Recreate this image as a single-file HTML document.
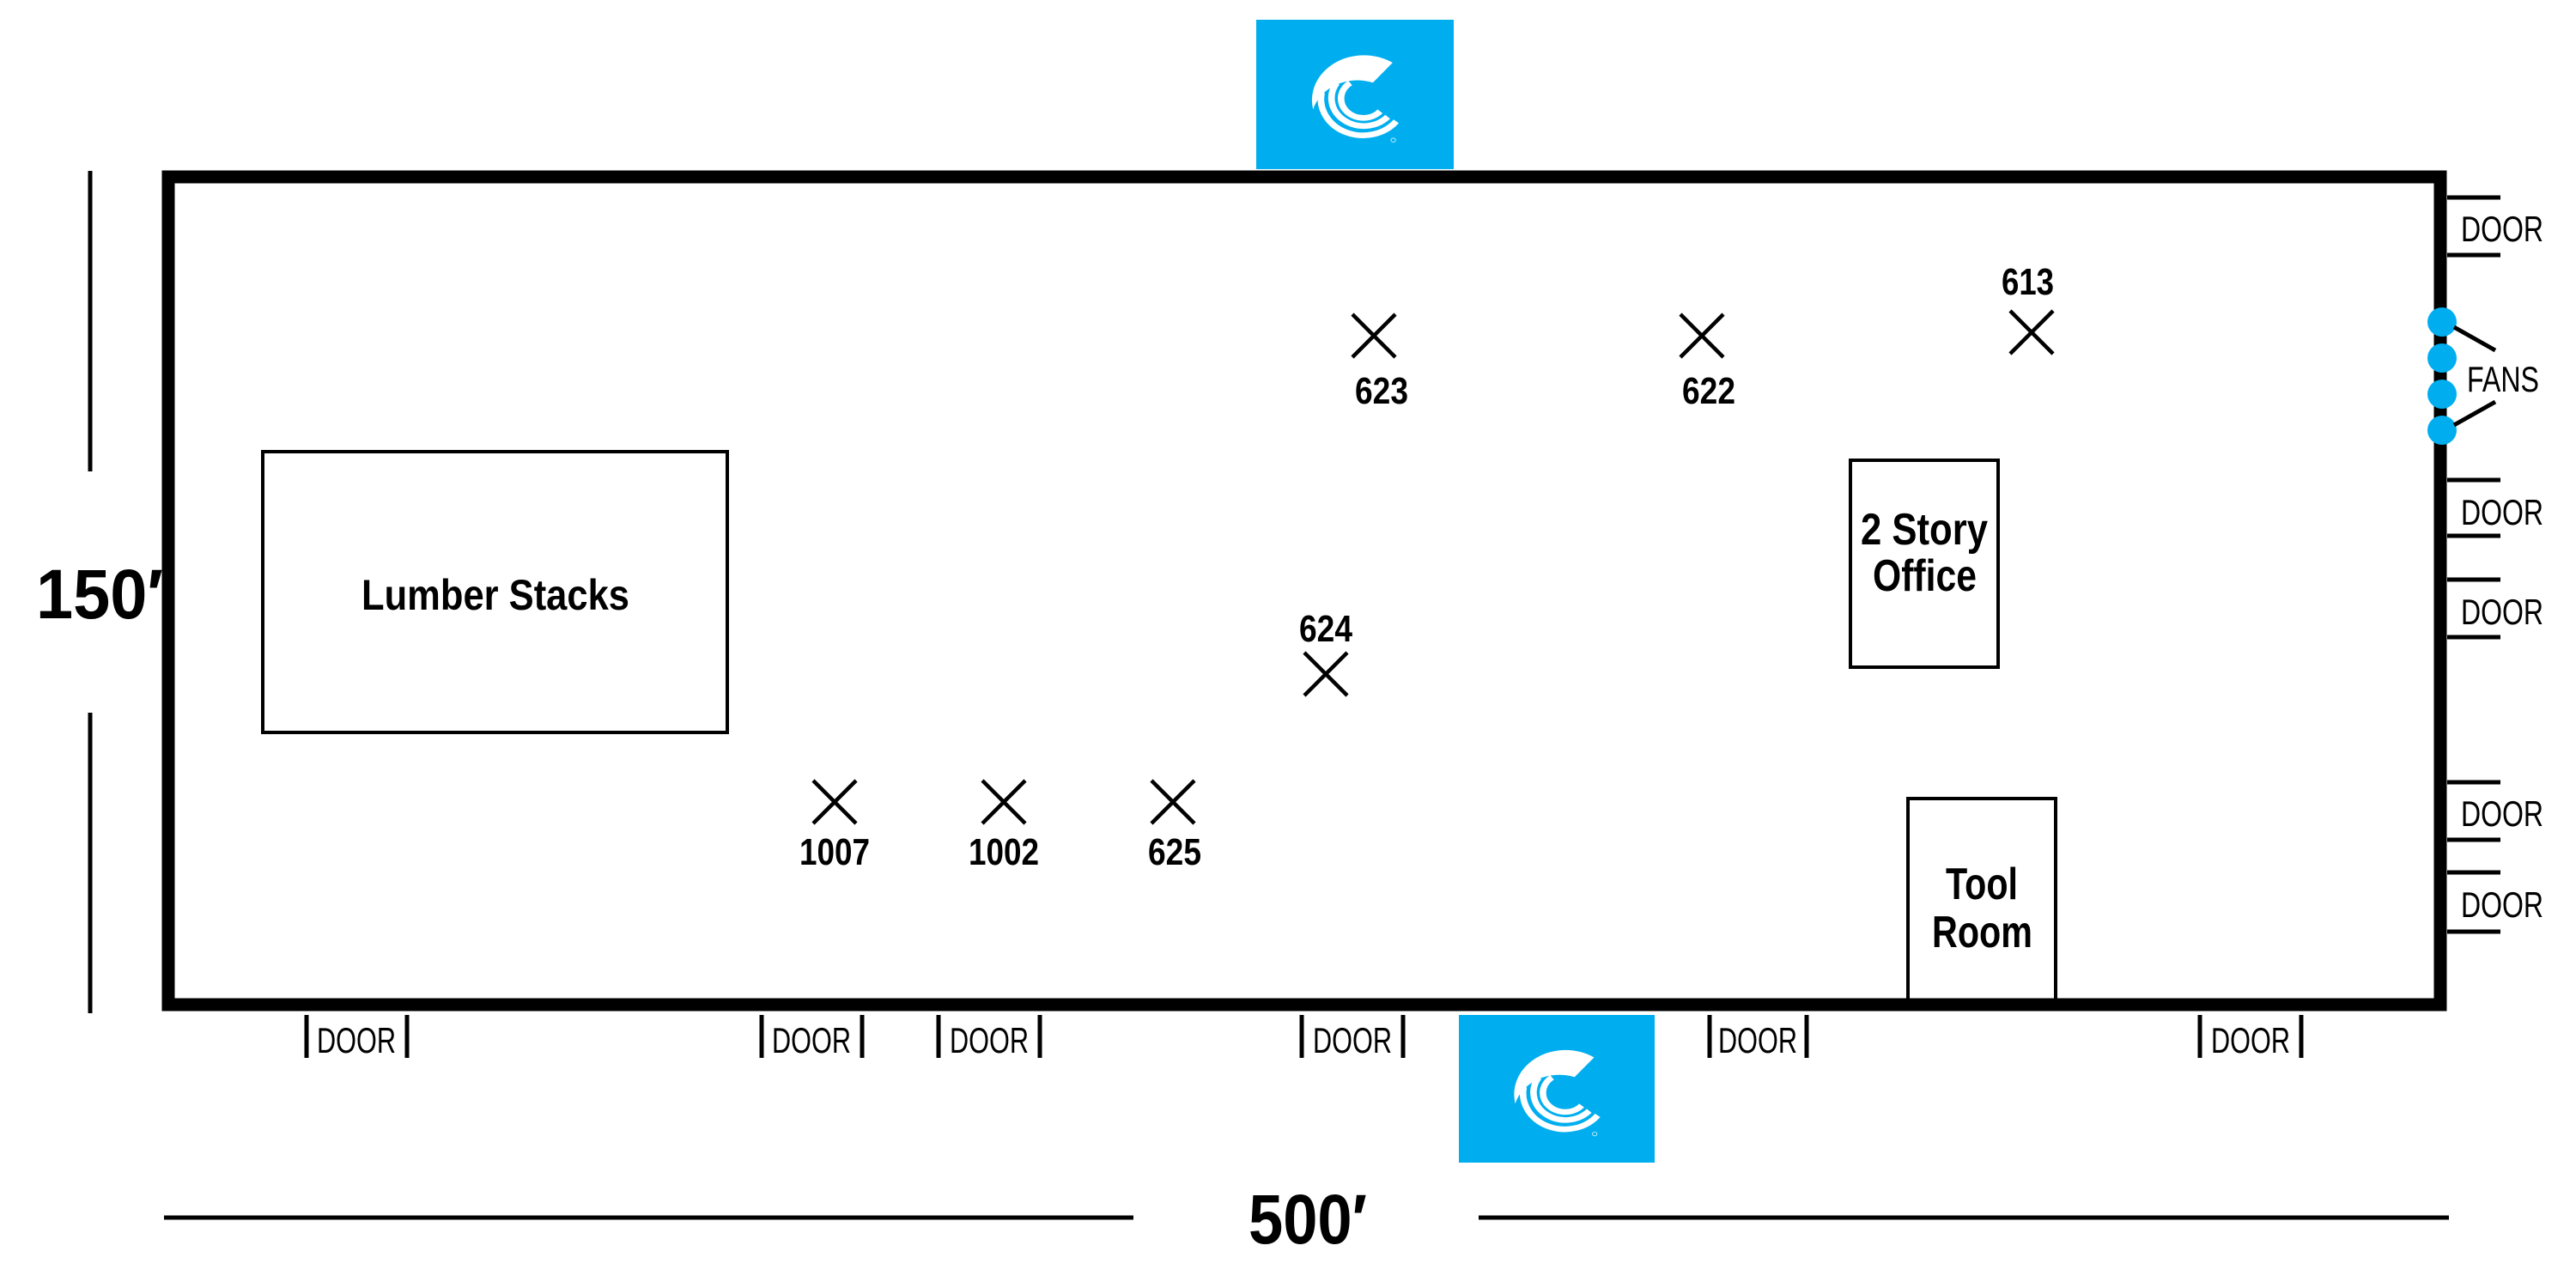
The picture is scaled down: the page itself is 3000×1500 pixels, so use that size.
<!DOCTYPE html>
<html><head><meta charset="utf-8"><style>
html,body{margin:0;padding:0;background:#fff}
svg{display:block}
.b{font-family:"Liberation Sans",sans-serif;font-weight:bold;fill:#000}
.r{font-family:"Liberation Sans",sans-serif;fill:#000}
</style></head><body>
<svg width="3000" height="1500" viewBox="0 0 3000 1500" xmlns="http://www.w3.org/2000/svg">
<defs>
<clipPath id="lc"><rect x="0" y="0" width="601" height="525"/></clipPath>
<g id="logo">
<rect x="0" y="0" width="601" height="525" fill="#00AEEF"/>
<g clip-path="url(#lc)"><g transform="translate(-165,-67)">
<path d="M580,218 A158,158 0 0 0 338,382 A140,140 0 0 1 520,288 Z" fill="#fff"/>
<path d="M451,289 A68,68 0 1 0 542,389" fill="none" stroke="#fff" stroke-width="20"/>
<path d="M410,289 A98,98 0 0 0 565,408" fill="none" stroke="#fff" stroke-width="20"/>
<path d="M364,323 A128,128 0 0 0 591,424" fill="none" stroke="#fff" stroke-width="20"/>
<circle cx="582" cy="490" r="7" fill="none" stroke="#fff" stroke-width="2"/>
</g></g>
</g>
<g id="x"><path d="M-25,-25 L25,25 M25,-25 L-25,25" stroke="#000" stroke-width="4.5"/></g>
</defs>

<g transform="translate(1463,23) scale(0.3827,0.3314)"><use href="#logo"/></g>
<g transform="translate(1699,1182) scale(0.3794,0.3276)"><use href="#logo"/></g>

<rect x="196" y="206" width="2646" height="964" fill="none" stroke="#000" stroke-width="15"/>

<line x1="105" y1="199" x2="105" y2="549" stroke="#000" stroke-width="5"/>
<line x1="105" y1="830" x2="105" y2="1180" stroke="#000" stroke-width="5"/>
<text class="b" x="42" y="720" font-size="82" textLength="148" lengthAdjust="spacingAndGlyphs">150′</text>

<line x1="191" y1="1418" x2="1320" y2="1418" stroke="#000" stroke-width="5"/>
<line x1="1722" y1="1418" x2="2852" y2="1418" stroke="#000" stroke-width="5"/>
<text class="b" x="1454" y="1448" font-size="82" textLength="138" lengthAdjust="spacingAndGlyphs">500′</text>

<rect x="306" y="526" width="541" height="327" fill="none" stroke="#000" stroke-width="4"/>
<text class="b" x="421" y="710" font-size="50" textLength="312" lengthAdjust="spacingAndGlyphs">Lumber Stacks</text>

<rect x="2155" y="536" width="172" height="241" fill="none" stroke="#000" stroke-width="4"/>
<text class="b" x="2167" y="634" font-size="52" textLength="148" lengthAdjust="spacingAndGlyphs">2 Story</text>
<text class="b" x="2181" y="688" font-size="52" textLength="121" lengthAdjust="spacingAndGlyphs">Office</text>

<rect x="2222" y="930" width="172" height="245" fill="none" stroke="#000" stroke-width="4"/>
<text class="b" x="2266" y="1047" font-size="52" textLength="84" lengthAdjust="spacingAndGlyphs">Tool</text>
<text class="b" x="2250" y="1103" font-size="52" textLength="117" lengthAdjust="spacingAndGlyphs">Room</text>

<use href="#x" x="1600" y="391"/>
<text class="b" x="1578" y="470" font-size="44" textLength="62" lengthAdjust="spacingAndGlyphs">623</text>
<use href="#x" x="1982" y="391"/>
<text class="b" x="1959" y="470" font-size="44" textLength="62" lengthAdjust="spacingAndGlyphs">622</text>
<use href="#x" x="2366" y="387"/>
<text class="b" x="2331" y="343" font-size="44" textLength="61" lengthAdjust="spacingAndGlyphs">613</text>
<use href="#x" x="1544" y="785"/>
<text class="b" x="1513" y="747" font-size="44" textLength="62" lengthAdjust="spacingAndGlyphs">624</text>
<use href="#x" x="972" y="934"/>
<text class="b" x="931" y="1007" font-size="44" textLength="82" lengthAdjust="spacingAndGlyphs">1007</text>
<use href="#x" x="1169" y="934"/>
<text class="b" x="1128" y="1007" font-size="44" textLength="82" lengthAdjust="spacingAndGlyphs">1002</text>
<use href="#x" x="1366" y="934"/>
<text class="b" x="1337" y="1007" font-size="44" textLength="62" lengthAdjust="spacingAndGlyphs">625</text>

<g stroke="#000" stroke-width="5">
<line x1="2850" y1="230" x2="2912" y2="230"/><line x1="2850" y1="297" x2="2912" y2="297"/>
<line x1="2850" y1="559" x2="2912" y2="559"/><line x1="2850" y1="624" x2="2912" y2="624"/>
<line x1="2850" y1="675" x2="2912" y2="675"/><line x1="2850" y1="742" x2="2912" y2="742"/>
<line x1="2850" y1="911" x2="2912" y2="911"/><line x1="2850" y1="978" x2="2912" y2="978"/>
<line x1="2850" y1="1016" x2="2912" y2="1016"/><line x1="2850" y1="1085" x2="2912" y2="1085"/>
</g>
<g class="r" font-size="42">
<text x="2866" y="281" textLength="96" lengthAdjust="spacingAndGlyphs">DOOR</text>
<text x="2866" y="611" textLength="96" lengthAdjust="spacingAndGlyphs">DOOR</text>
<text x="2866" y="727" textLength="96" lengthAdjust="spacingAndGlyphs">DOOR</text>
<text x="2866" y="962" textLength="96" lengthAdjust="spacingAndGlyphs">DOOR</text>
<text x="2866" y="1068" textLength="96" lengthAdjust="spacingAndGlyphs">DOOR</text>
</g>

<g fill="#00AEEF">
<circle cx="2844" cy="375" r="17"/><circle cx="2844" cy="417" r="17"/>
<circle cx="2844" cy="459" r="17"/><circle cx="2844" cy="501" r="17"/>
</g>
<line x1="2858" y1="381" x2="2906" y2="408" stroke="#000" stroke-width="5"/>
<line x1="2858" y1="495" x2="2906" y2="468" stroke="#000" stroke-width="5"/>
<text class="r" x="2873" y="456" font-size="42" textLength="84" lengthAdjust="spacingAndGlyphs">FANS</text>

<g stroke="#000" stroke-width="5">
<line x1="357" y1="1182" x2="357" y2="1232"/><line x1="474" y1="1182" x2="474" y2="1232"/>
<line x1="887" y1="1182" x2="887" y2="1232"/><line x1="1004" y1="1182" x2="1004" y2="1232"/>
<line x1="1093" y1="1182" x2="1093" y2="1232"/><line x1="1211" y1="1182" x2="1211" y2="1232"/>
<line x1="1516" y1="1182" x2="1516" y2="1232"/><line x1="1634" y1="1182" x2="1634" y2="1232"/>
<line x1="1991" y1="1182" x2="1991" y2="1232"/><line x1="2104" y1="1182" x2="2104" y2="1232"/>
<line x1="2562" y1="1182" x2="2562" y2="1232"/><line x1="2680" y1="1182" x2="2680" y2="1232"/>
</g>
<g class="r" font-size="42">
<text x="369" y="1226" textLength="92" lengthAdjust="spacingAndGlyphs">DOOR</text>
<text x="899" y="1226" textLength="92" lengthAdjust="spacingAndGlyphs">DOOR</text>
<text x="1106" y="1226" textLength="92" lengthAdjust="spacingAndGlyphs">DOOR</text>
<text x="1529" y="1226" textLength="92" lengthAdjust="spacingAndGlyphs">DOOR</text>
<text x="2001" y="1226" textLength="92" lengthAdjust="spacingAndGlyphs">DOOR</text>
<text x="2575" y="1226" textLength="92" lengthAdjust="spacingAndGlyphs">DOOR</text>
</g>
</svg>
</body></html>
